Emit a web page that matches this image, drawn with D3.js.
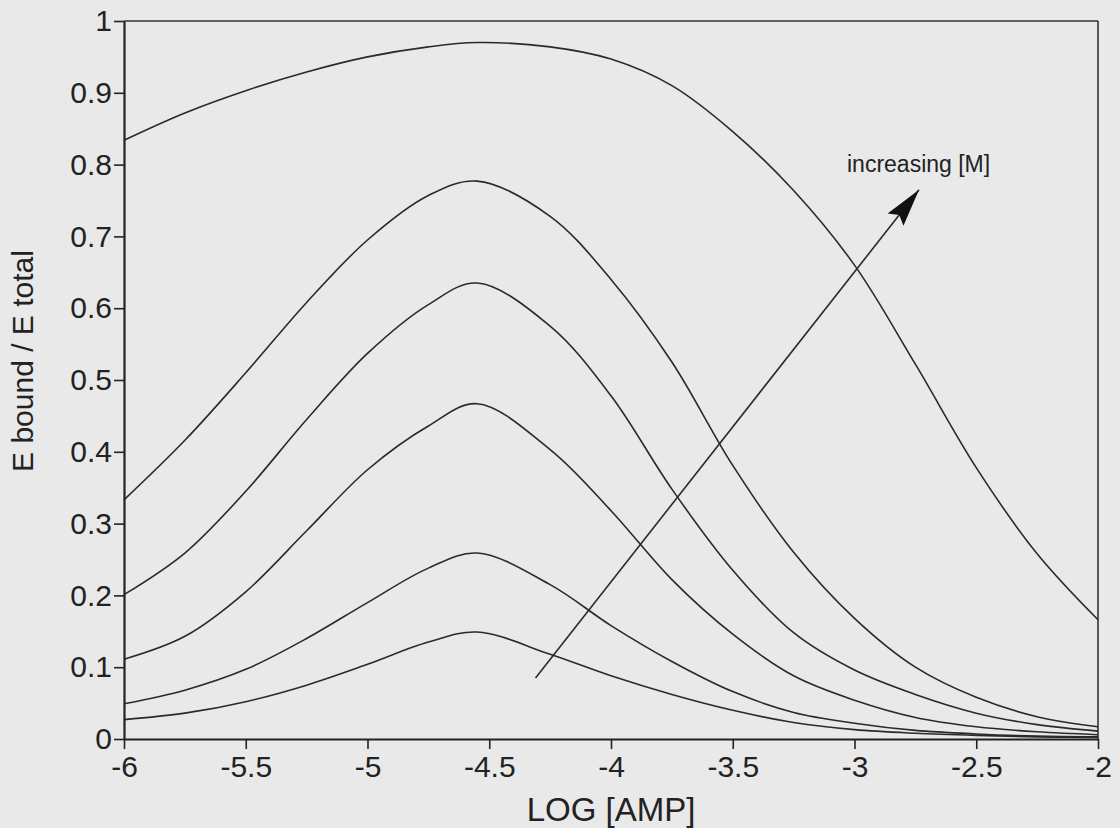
<!DOCTYPE html>
<html>
<head>
<meta charset="utf-8">
<script src="https://cdn.jsdelivr.net/npm/d3@7/dist/d3.min.js"></script>
<style>
body { margin: 0; background: #e9e9e9; }
#vis { width: 1120px; height: 828px; }
.axis text { font-family: "Liberation Sans", Arial, sans-serif; fill: #222; }
</style>
</head>
<body>
<div id="vis"></div>
<script>
var w = 1120;
var h = 828;
var plotLeft = 124, plotRight = 1098, plotTop = 21, plotBottom = 739;

// data
var logAmp = [-6, -5.75, -5.5, -5.25, -5, -4.75, -4.55, -4.25, -4, -3.75, -3.5, -3.25, -3, -2.75, -2.5, -2.25, -2];
var curve1 = [0.834, 0.872, 0.903, 0.929, 0.950, 0.964, 0.970, 0.964, 0.947, 0.910, 0.846, 0.764, 0.660, 0.522, 0.378, 0.258, 0.166];
var curve2 = [0.333, 0.416, 0.51, 0.608, 0.695, 0.757, 0.777, 0.728, 0.640, 0.525, 0.381, 0.260, 0.168, 0.100, 0.058, 0.031, 0.017];
var curve3 = [0.201, 0.259, 0.345, 0.445, 0.537, 0.605, 0.635, 0.575, 0.478, 0.348, 0.235, 0.148, 0.096, 0.062, 0.036, 0.020, 0.011];
var curve4 = [0.111, 0.143, 0.205, 0.290, 0.375, 0.436, 0.467, 0.403, 0.318, 0.222, 0.146, 0.088, 0.054, 0.030, 0.017, 0.010, 0.006];
var curve5 = [0.049, 0.068, 0.097, 0.140, 0.190, 0.238, 0.259, 0.215, 0.158, 0.108, 0.066, 0.037, 0.022, 0.012, 0.007, 0.004, 0.003];
var curve6 = [0.027, 0.036, 0.052, 0.075, 0.104, 0.135, 0.149, 0.118, 0.088, 0.062, 0.040, 0.023, 0.013, 0.008, 0.005, 0.003, 0.002];
var curves = [curve1, curve2, curve3, curve4, curve5, curve6];

var xTicks = [-6, -5.5, -5, -4.5, -4, -3.5, -3, -2.5, -2];
var yTicks = [0, 0.1, 0.2, 0.3, 0.4, 0.5, 0.6, 0.7, 0.8, 0.9, 1];

// arrow "increasing [M]" (start and tip, data units)
var arrowFrom = [-4.31, 0.085];
var arrowTo = [-2.735, 0.765];
var arrowLabel = "increasing [M]";

var svg = d3.select("#vis")
    .append("svg")
    .attr("width", w)
    .attr("height", h);

var x = d3.scaleLinear().domain([-6, -2]).range([plotLeft, plotRight]);
var y = d3.scaleLinear().domain([0, 1]).range([plotBottom, plotTop]);

//kader boven en rechts
svg.append("line")
    .attr("x1", x(-6)).attr("x2", x(-2))
    .attr("y1", y(1)).attr("y2", y(1))
    .attr("stroke", "#333").attr("stroke-width", 1.6);
svg.append("line")
    .attr("x1", x(-2)).attr("x2", x(-2))
    .attr("y1", y(1)).attr("y2", y(0))
    .attr("stroke", "#333").attr("stroke-width", 1.6);

//curves
var line = d3.line()
    .x(function(d) { return x(d[0]); })
    .y(function(d) { return y(d[1]); })
    .curve(d3.curveCatmullRom.alpha(0.5));

curves.forEach(function(c) {
    svg.append("path")
        .datum(logAmp.map(function(v, i) { return [v, c[i]]; }))
        .attr("d", line)
        .attr("fill", "none")
        .attr("stroke", "#2a2a2a")
        .attr("stroke-width", 1.6);
});

//assen
var xAxis = svg.append("g")
    .attr("class", "axis")
    .attr("transform", "translate(0," + plotBottom + ")")
    .call(d3.axisBottom(x).tickValues(xTicks).tickSize(10).tickSizeOuter(0).tickPadding(7)
        .tickFormat(function(d) { return String(d); }));
xAxis.selectAll("text").style("font-size", "30px");

var yAxis = svg.append("g")
    .attr("class", "axis")
    .attr("transform", "translate(" + plotLeft + ",0)")
    .call(d3.axisLeft(y).tickValues(yTicks).tickSize(10).tickSizeOuter(0).tickPadding(2)
        .tickFormat(function(d) { return String(+d.toFixed(1)); }));
yAxis.selectAll("text").style("font-size", "30px");

svg.selectAll(".axis path").attr("stroke", "#222").attr("stroke-width", 2.2);
svg.selectAll(".axis line").attr("stroke", "#222").attr("stroke-width", 1.6);

//aslabels
svg.append("text")
    .text("LOG [AMP]")
    .attr("x", 611)
    .attr("y", 821)
    .attr("text-anchor", "middle")
    .attr("fill", "#222")
    .style("font-family", "Liberation Sans, Arial, sans-serif")
    .style("font-size", "33px");

svg.append("text")
    .text("E bound / E total")
    .attr("transform", "translate(33,361) rotate(-90)")
    .attr("text-anchor", "middle")
    .attr("fill", "#222")
    .style("font-family", "Liberation Sans, Arial, sans-serif")
    .style("font-size", "30px");

//pijl
svg.append("defs").append("marker")
    .attr("id", "head")
    .attr("markerUnits", "userSpaceOnUse")
    .attr("viewBox", "0 -11 40 22")
    .attr("refX", 38)
    .attr("refY", 0)
    .attr("markerWidth", 40)
    .attr("markerHeight", 22)
    .attr("orient", "auto")
    .append("path")
    .attr("d", "M0,-10 L38,0 L0,10 L6,0 Z")
    .attr("fill", "#111");

svg.append("line")
    .attr("x1", x(arrowFrom[0])).attr("y1", y(arrowFrom[1]))
    .attr("x2", x(arrowTo[0])).attr("y2", y(arrowTo[1]))
    .attr("stroke", "#2a2a2a")
    .attr("stroke-width", 1.6)
    .attr("marker-end", "url(#head)");

svg.append("text")
    .text(arrowLabel)
    .attr("x", 847)
    .attr("y", 172)
    .attr("fill", "#222")
    .style("font-family", "Liberation Sans, Arial, sans-serif")
    .style("font-size", "23px");
</script>
</body>
</html>
